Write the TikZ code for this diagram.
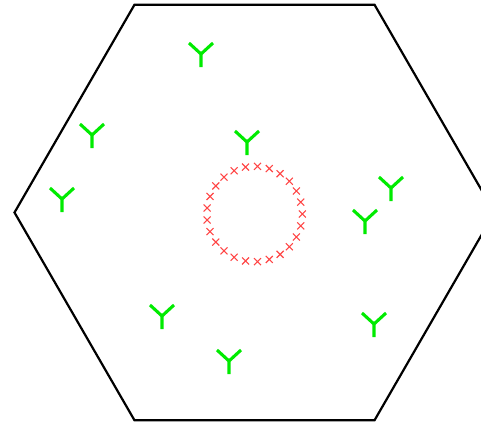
\documentclass[tikz,border=0pt]{standalone}
\definecolor{ygreen}{RGB}{0,235,0}
\definecolor{xred}{RGB}{255,70,70}
\tikzset{
  hexline/.style={line width=2.2pt, black, line join=miter},
  yline/.style={line width=3.1pt, ygreen},
  xline/.style={line width=1.1pt, xred},
  ypic/.pic={\draw[yline] (-12,-11) -- (0,0) -- (12,-11) (0,0) -- (0,13);},
  crosspic/.pic={\draw[xline] (-3.5,-3.5) -- (3.5,3.5) (-3.5,3.5) -- (3.5,-3.5);}
}
\begin{document}
\begin{tikzpicture}[x=1pt,y=-1pt]
\useasboundingbox (0,0) rectangle (481,424);
\clip (0,0) rectangle (481,424);
% hexagon
\draw[hexline] (494.5,212.5) -- (374.5,4.7) -- (134.5,4.7) -- (14.5,212.5)
  -- (134.5,420.3) -- (374.5,420.3) -- cycle;
% Y marks
\foreach \px/\py in {201/54, 92/135, 62/199, 247/142, 391/188, 365/221, 162/316, 229/361, 374/324}
  \pic at (\px,\py) {ypic};
% ring of crosses
\foreach \k in {0,...,24}
  \path (254.5,214) ++(\k*14.4:47.8) pic {crosspic};
\end{tikzpicture}
\end{document}
